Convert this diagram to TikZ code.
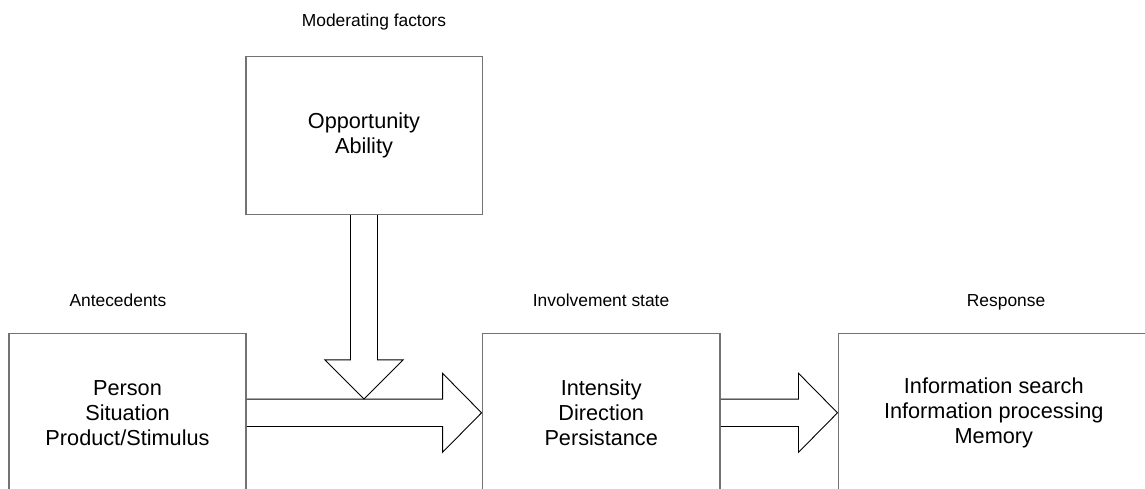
\documentclass[tikz,border=0pt]{standalone}
\usepackage{fontspec}
\setmainfont{Liberation Sans}
\usetikzlibrary{calc}
\tikzset{
  box/.style={draw=black!55, line width=1.6pt, minimum width=237pt, minimum height=158.6pt,
    align=center, inner sep=0pt, font=\fontsize{21.7}{25}\selectfont},
  heading/.style={anchor=base west, inner sep=0pt, font=\fontsize{17.4}{20}\selectfont},
  fat/.style={draw=black, line width=0.9pt, line join=miter}
}
% wide block arrows
\def\fatright#1#2{\draw[fat] let \p1=(#1), \p2=(#2) in
  (\x1,\y2+13.7pt) -- (\x2-39pt,\y2+13.7pt) -- (\x2-39pt,\y2+39.5pt) -- (\x2,\y2)
  -- (\x2-39pt,\y2-39.5pt) -- (\x2-39pt,\y2-13.7pt) -- (\x1,\y2-13.7pt);}
\def\fatdown#1#2{\draw[fat] let \p1=(#1), \p2=(#2) in
  (\x1-13.5pt,\y1) -- (\x1-13.5pt,\y2+39.3pt) -- (\x1-39.3pt,\y2+39.3pt) -- (\x1,\y2)
  -- (\x1+39.3pt,\y2+39.3pt) -- (\x1+13.5pt,\y2+39.3pt) -- (\x1+13.5pt,\y1);}

\begin{document}
\begin{tikzpicture}[x=1pt,y=-1pt]
\useasboundingbox (0,0) rectangle (1145,489);
\node[box] (ante) at (127.5,412.8) {Person\\Situation\\Product/Stimulus};
\node[box, minimum width=237.7pt] (inv) at (601.2,412.8) {Intensity\\Direction\\Persistance};
\node[box, minimum width=311pt] (resp) at (993.8,412.8) {Information search\\Information processing\\Memory};
\node[box, minimum width=236.6pt, minimum height=157.6pt] (mod) at (364,135.5) {Opportunity\\Ability};

\node[heading] (modlabel) at (301.7,26.7) {Moderating factors};
\node[heading] (antelabel) at (69.3,306) {Antecedents};
\node[heading] (invlabel) at (532.7,306) {Involvement state};
\node[heading] (resplabel) at (966.7,306) {Response};

\coordinate (join) at ($(mod.south |- ante.east)+(0,-13.7)$);
\fatright{ante.east}{inv.west}
\fatright{inv.east}{resp.west}
\fatdown{mod.south}{join}
\end{tikzpicture}
\end{document}
